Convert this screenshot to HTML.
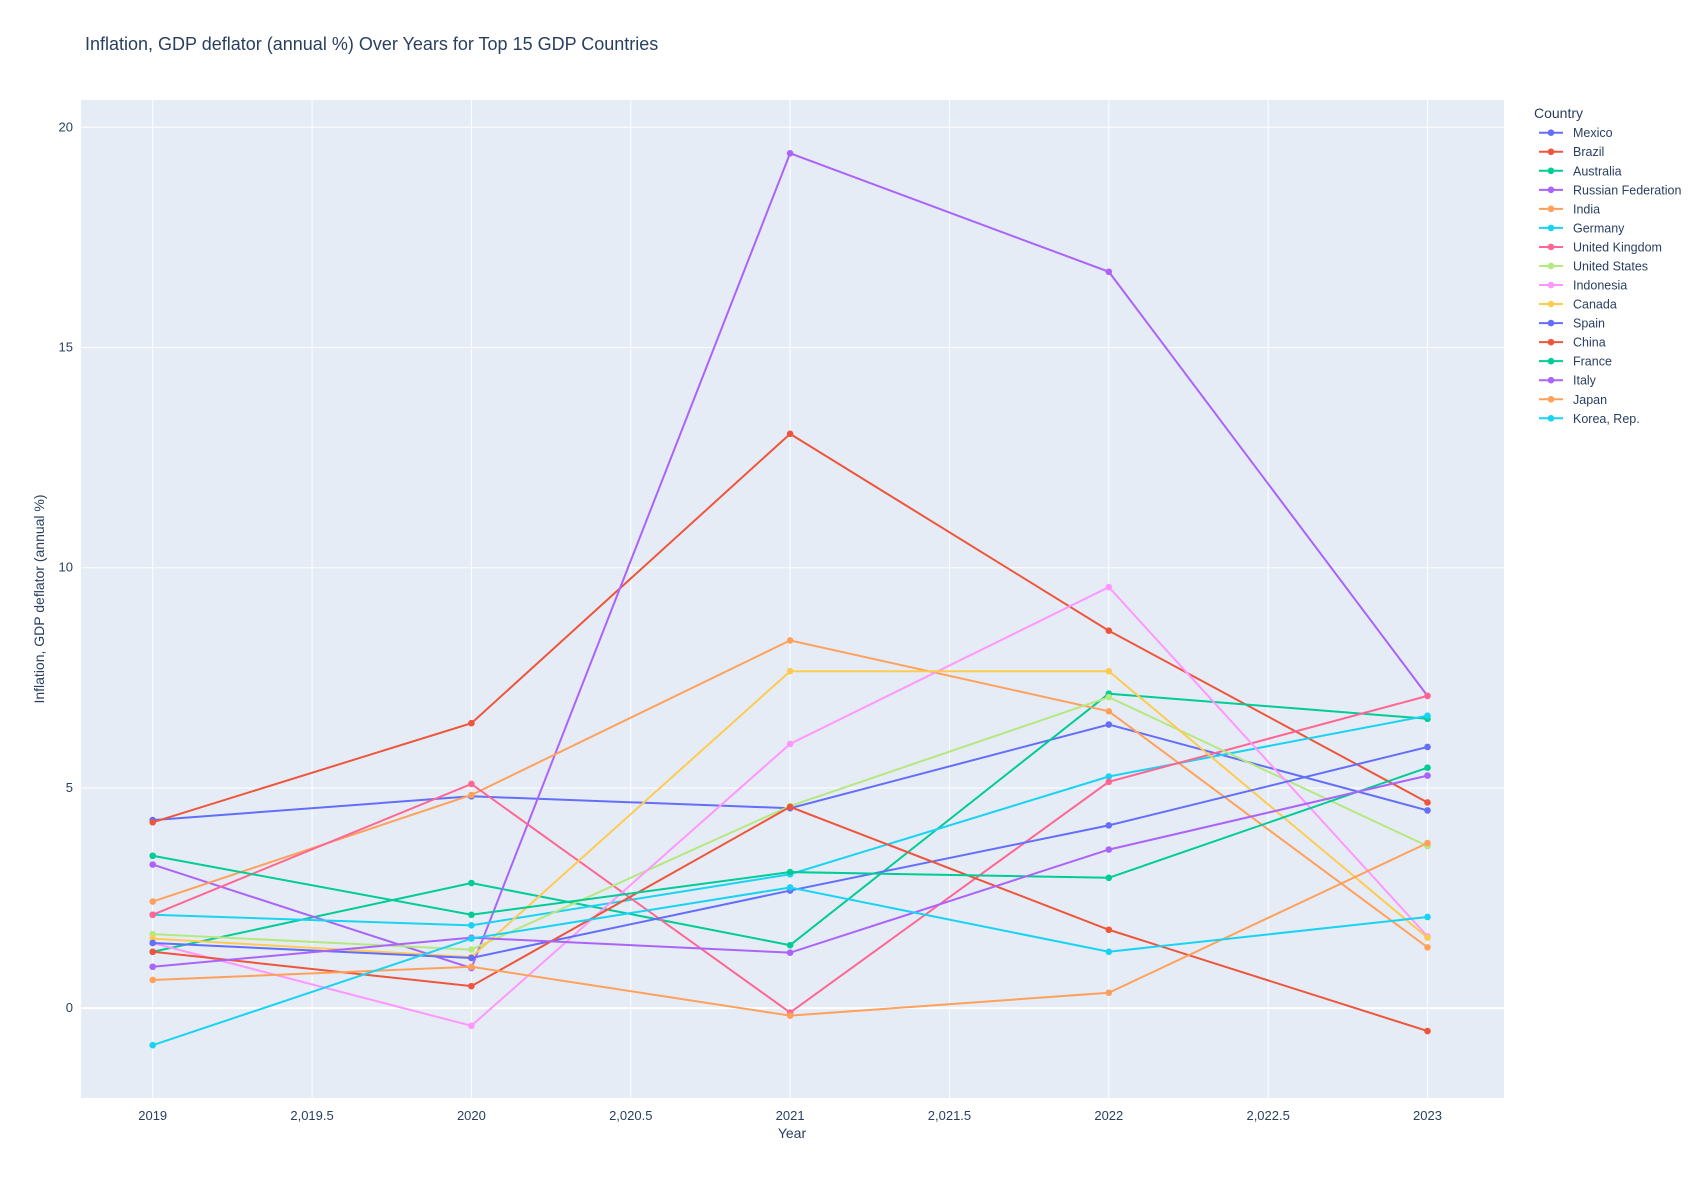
<!DOCTYPE html>
<html><head><meta charset="utf-8"><style>
body{margin:0;background:#fff;font-family:"Liberation Sans",sans-serif;}
svg text{font-family:"Liberation Sans",sans-serif;fill:#2a3f5f;}
</style></head><body>
<svg id="chart" width="1704" height="1178" xmlns="http://www.w3.org/2000/svg">
<text x="85" y="50" font-size="18">Inflation, GDP deflator (annual %) Over Years for Top 15 GDP Countries</text>
<rect x="81" y="100" width="1423" height="998" fill="#e5ecf6"/>
<g id="grid"></g><g id="series"></g><g id="legend"></g>
<text x="792" y="1138" font-size="14" text-anchor="middle">Year</text>
<text transform="translate(44,599) rotate(-90)" font-size="14" text-anchor="middle">Inflation, GDP deflator (annual %)</text>
</svg>
<script>
const years=[2019,2020,2021,2022,2023];
const countries=["Mexico","Brazil","Australia","Russian Federation","India","Germany","United Kingdom","United States","Indonesia","Canada","Spain","China","France","Italy","Japan","Korea, Rep."];
const mexico=[4.27,4.81,4.54,6.44,4.49];
const brazil=[4.22,6.47,13.04,8.57,4.67];
const australia=[1.28,2.84,1.43,7.14,6.57];
const russia=[3.26,0.91,19.41,16.72,7.09];
const india=[2.42,4.84,8.35,6.74,1.38];
const germany=[2.12,1.88,3.04,5.26,6.64];
const uk=[2.12,5.09,-0.1,5.14,7.09];
const us=[1.68,1.33,4.59,7.06,3.68];
const indonesia=[1.48,-0.4,6.0,9.56,1.63];
const canada=[1.58,1.16,7.65,7.65,1.6];
const spain=[1.48,1.14,2.67,4.15,5.93];
const china=[1.28,0.5,4.57,1.78,-0.52];
const france=[3.46,2.12,3.09,2.96,5.46];
const italy=[0.94,1.6,1.26,3.6,5.28];
const japan=[0.64,0.94,-0.17,0.35,3.75];
const korea=[-0.84,1.58,2.74,1.28,2.07];
const xTicks=[2019,2019.5,2020,2020.5,2021,2021.5,2022,2022.5,2023];
const xTickLabels=["2019","2,019.5","2020","2,020.5","2021","2,021.5","2022","2,022.5","2023"];
const yTicks=[0,5,10,15,20];
const allSeries=[mexico,brazil,australia,russia,india,germany,uk,us,indonesia,canada,spain,china,france,italy,japan,korea];
const colors=["#636efa","#EF553B","#00cc96","#ab63fa","#FFA15A","#19d3f3","#FF6692","#B6E880","#FF97FF","#FECB52"];
const NS="http://www.w3.org/2000/svg";
const L=81,R=1504,T=100,B=1098;
const x0=2018.775,x1=2023.24,y0=-2.04,y1=20.62;
const sx=v=>L+(v-x0)/(x1-x0)*(R-L);
const sy=v=>B-(v-y0)/(y1-y0)*(B-T);
function mk(tag,attrs,parent){const e=document.createElementNS(NS,tag);for(const k in attrs)e.setAttribute(k,attrs[k]);parent.appendChild(e);return e;}
const grid=document.getElementById('grid');
xTicks.forEach((t,i)=>{
 const g=mk('line',{x1:sx(t),x2:sx(t),y1:T,y2:B,stroke:'#fff','stroke-width':1},grid);
 
 
 const tx=mk('text',{x:sx(t),y:B+22,'font-size':13,'text-anchor':'middle'},grid);
 
 
 tx.textContent=xTickLabels[i];
});
yTicks.forEach(t=>{
 const g=mk('line',{x1:L,x2:R,y1:sy(t),y2:sy(t),stroke:'#fff','stroke-width':t===0?2:1},grid);
 
 
 const tx=mk('text',{x:L-8,y:sy(t)+4,'font-size':13,'text-anchor':'end'},grid);
 
 
 tx.textContent=String(t);
});
const sg=document.getElementById('series'),lg=document.getElementById('legend');
const lt=mk('text',{x:1534,y:118,'font-size':14},lg);


lt.textContent='Country';
allSeries.forEach((vals,i)=>{
 const c=colors[i%10];
 const g=mk('g',{},sg);
 
 
 const pts=vals.map((v,j)=>sx(years[j])+','+sy(v)).join(' ');
 mk('polyline',{points:pts,fill:'none',stroke:c,'stroke-width':2},g);
 vals.forEach((v,j)=>{
  const p=mk('circle',{cx:sx(years[j]),cy:sy(v),r:3.3,fill:c},g);
  
  
 });
 const ly=132.7+i*19.04;
 const le=mk('g',{},lg);
 
 
 mk('line',{x1:1539,x2:1563,y1:ly,y2:ly,stroke:c,'stroke-width':2},le);
 mk('circle',{cx:1551,cy:ly,r:3.3,fill:c},le);
 const t=mk('text',{x:1573,y:ly+4.5,'font-size':12.5},le);
 t.textContent=countries[i];
});
</script>
</body></html>
